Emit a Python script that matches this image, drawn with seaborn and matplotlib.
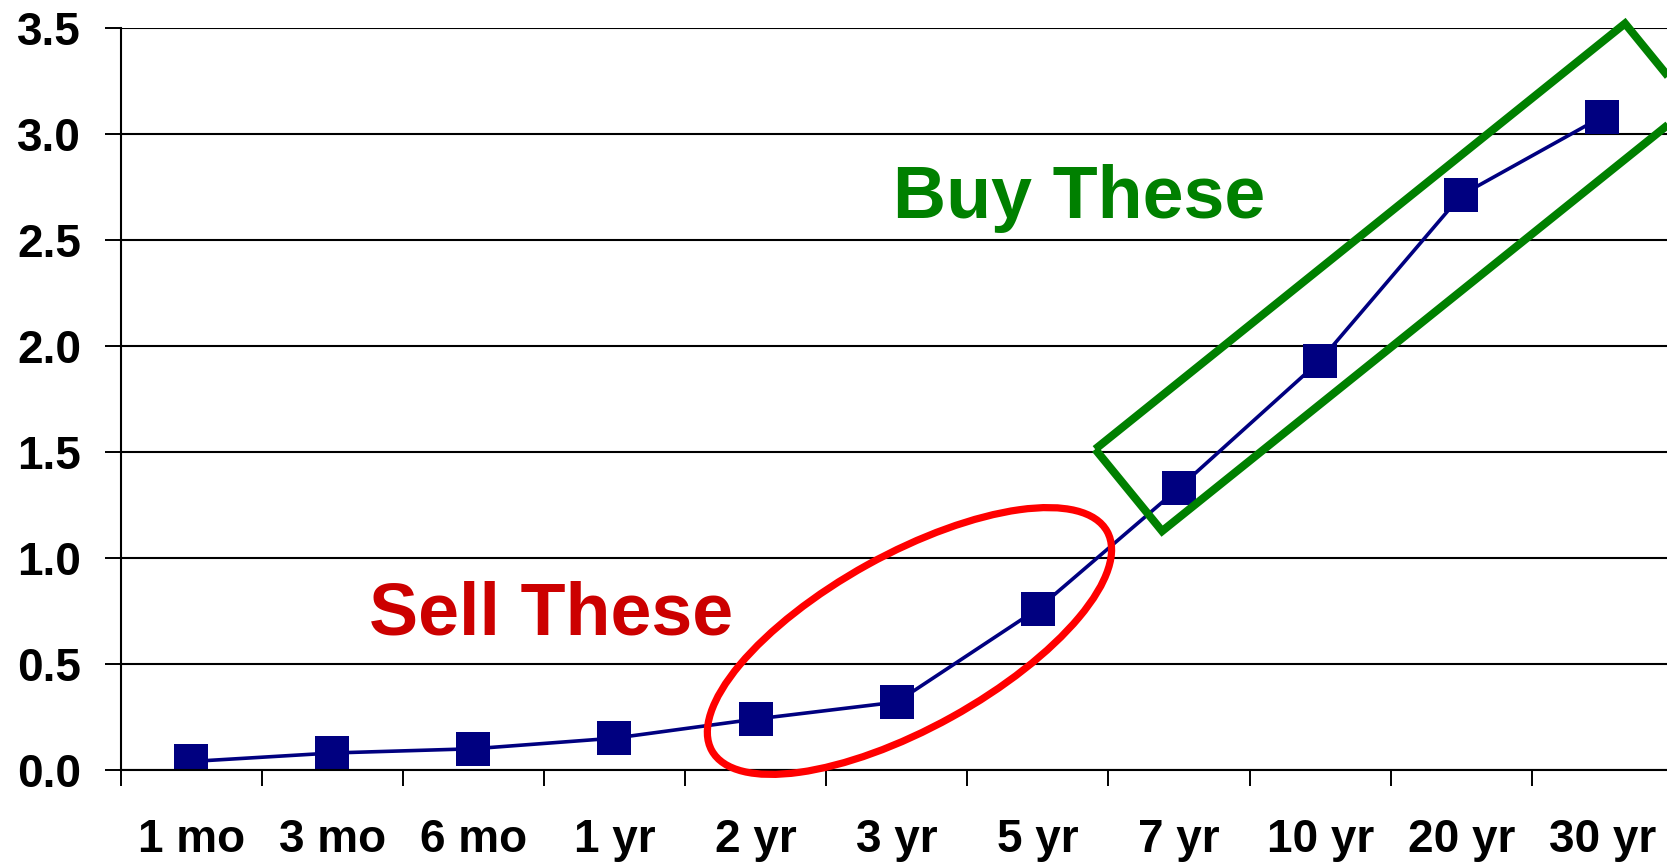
import numpy as np
import pandas as pd
import matplotlib
matplotlib.use("Agg")
import matplotlib.pyplot as plt
import seaborn as sns
from matplotlib.patches import Ellipse, Polygon
from matplotlib.transforms import ScaledTranslation
from matplotlib.ticker import FixedLocator

# ---- data ----
tenors = ["1 mo", "3 mo", "6 mo", "1 yr", "2 yr", "3 yr", "5 yr", "7 yr", "10 yr", "20 yr", "30 yr"]
yields = [0.04, 0.08, 0.10, 0.15, 0.24, 0.32, 0.76, 1.33, 1.93, 2.71, 3.08]
y_ticks = [0.0, 0.5, 1.0, 1.5, 2.0, 2.5, 3.0, 3.5]
y_tick_labels = ["0.0", "0.5", "1.0", "1.5", "2.0", "2.5", "3.0", "3.5"]

sell_label = "Sell These"
buy_label = "Buy These"
sell_text_pos = (2.55, 0.64)
buy_text_pos = (6.29, 2.60)
ellipse_center = (5.09, 0.608)
buy_box_x = [6.406, 6.880, 10.634, 10.160]
buy_box_y = [1.512, 1.126, 3.132, 3.519]

# ---- style ----
sns.set_theme(style="white")
plt.rcParams["font.family"] = ["Liberation Sans", "DejaVu Sans"]
plt.rcParams["font.weight"] = "bold"
plt.rcParams["text.color"] = "black"
plt.rcParams["xtick.color"] = "black"
plt.rcParams["ytick.color"] = "black"
plt.rcParams["xtick.labelcolor"] = "black"
plt.rcParams["ytick.labelcolor"] = "black"

fig = plt.figure(figsize=(16.67, 8.63), dpi=100)
ax = fig.add_axes([0.0723, 0.1078, 0.9313, 0.8603])

df = pd.DataFrame({"tenor": tenors, "yield": yields})
sns.lineplot(data=df, x="tenor", y="yield", sort=False, ax=ax,
             color="#000080", linewidth=2.6, marker="s", markersize=24.5,
             markeredgewidth=0, markerfacecolor="#000080")

ax.set_xlim(-0.5, len(tenors) - 0.5)
ax.set_ylim(0, 3.5)
ax.set_xlabel("")
ax.set_ylabel("")

# y axis
ax.set_yticks(y_ticks)
ax.set_yticklabels(y_tick_labels, fontsize=33, fontweight="bold", color="black")
ax.tick_params(axis="y", direction="out", length=11.5, width=1.4, color="black",
               labelcolor="black", pad=17, left=True)
ax.yaxis.grid(True, color="black", linewidth=1.5)
ax.xaxis.grid(False)

# x axis: labels at centers, tick marks at boundaries
ax.set_xticks(range(len(tenors)))
ax.set_xticklabels(tenors, fontsize=33, fontweight="bold", color="black")
ax.xaxis.set_minor_locator(FixedLocator(np.arange(-0.5, len(tenors), 1.0)))
ax.tick_params(axis="x", which="major", length=0, pad=34.5, bottom=True, labelcolor="black")
ax.tick_params(axis="x", which="minor", direction="out", length=11.5, width=1.4, color="black", bottom=True)

for s in ["top", "right"]:
    ax.spines[s].set_visible(False)
for s in ["left", "bottom"]:
    ax.spines[s].set_color("black")
    ax.spines[s].set_linewidth(1.5)

# annotations
ax.text(sell_text_pos[0], sell_text_pos[1], sell_label, color="#CC0000", fontsize=53,
        fontweight="bold", ha="center", va="baseline")
ax.text(buy_text_pos[0], buy_text_pos[1], buy_label, color="#008000", fontsize=53,
        fontweight="bold", ha="center", va="baseline")

ell = Ellipse((0, 0), width=4.52, height=1.74, angle=29.0, fill=False,
              edgecolor="#FF0000", linewidth=5.2,
              transform=fig.dpi_scale_trans + ScaledTranslation(ellipse_center[0], ellipse_center[1], ax.transData),
              clip_on=False, zorder=5)
ax.add_patch(ell)

box = Polygon(np.column_stack([buy_box_x, buy_box_y]), closed=True, fill=False,
              edgecolor="#008000", linewidth=5.8, joinstyle="miter", clip_on=False, zorder=5)
ax.add_patch(box)

fig.savefig("out.png", dpi=100)
